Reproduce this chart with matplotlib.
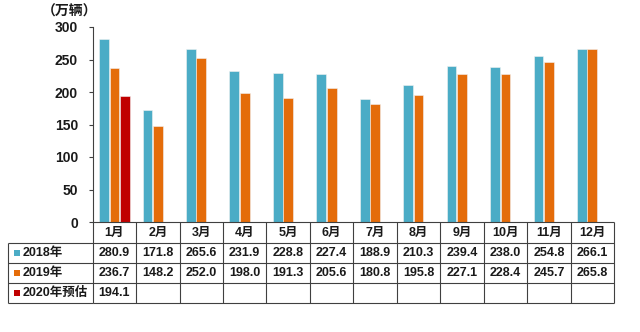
import matplotlib
matplotlib.use("Agg")
import matplotlib.pyplot as plt
import numpy as np
from matplotlib.transforms import blended_transform_factory

plt.rcParams['font.family'] = ['Liberation Sans', 'Noto Sans CJK SC']

months = ['1月', '2月', '3月', '4月', '5月', '6月', '7月', '8月', '9月', '10月', '11月', '12月']
series_names = ['2018年', '2019年', '2020年预估']
sales_2018 = [280.9, 171.8, 265.6, 231.9, 228.8, 227.4, 188.9, 210.3, 239.4, 238.0, 254.8, 266.1]
sales_2019 = [236.7, 148.2, 252.0, 198.0, 191.3, 205.6, 180.8, 195.8, 227.1, 228.4, 245.7, 265.8]
sales_2020 = [194.1, None, None, None, None, None, None, None, None, None, None, None]
colors = ['#4BACC6', '#E46C0A', '#C00000']
yticks = [0, 50, 100, 150, 200, 250, 300]
unit_label = '（万辆）'

W, H = 640, 332
fig = plt.figure(figsize=(W / 100, H / 100), dpi=100)

# main plotting area (pixel geometry)
ax_l, ax_r, ax_t, ax_b = 92.7, 614.0, 27.0, 222.0
ax = fig.add_axes([ax_l / W, 1 - ax_b / H, (ax_r - ax_l) / W, (ax_b - ax_t) / H])

x = np.arange(len(months))
offsets = [-0.24, 0.0, 0.24]
bar_w = 0.225
all_series = [sales_2018, sales_2019, sales_2020]
for vals, off, c in zip(all_series, offsets, colors):
    v = np.array([np.nan if s is None else s for s in vals], dtype=float)
    ax.bar(x + off, v, width=bar_w, color=c, edgecolor='#f2f2f2', linewidth=0.4)

ax.set_xlim(-0.5, len(months) - 0.5)
ax.set_ylim(0, 300)
ax.set_yticks(yticks)
ax.set_xticks([])
for s in ['top', 'right', 'bottom']:
    ax.spines[s].set_visible(False)
ax.spines['left'].set_color('#404040')
ax.spines['left'].set_linewidth(0.8)
ax.tick_params(axis='y', direction='out', length=3, width=0.8, color='#404040',
               pad=7.5, labelsize=10)
for lbl in ax.get_yticklabels():
    lbl.set_fontweight('bold')
    lbl.set_color('#1a1a1a')

# overlay axes in figure pixels for the data table
tab = fig.add_axes([0, 0, 1, 1], facecolor='none')
tab.set_xlim(0, W)
tab.set_ylim(H, 0)
tab.axis('off')
mix = blended_transform_factory(ax.transData, tab.transData)

line_kw = dict(color='#404040', lw=0.8, solid_capstyle='butt')
rows_y = [222, 243, 263, 283, 303]
left_px = 8
x_first = -0.5
x_last = len(months) - 0.5

# header top line (spans month columns only)
tab.plot([x_first, x_last], [rows_y[0], rows_y[0]], transform=mix, **line_kw)
# remaining horizontal lines span the label column too
axis_left_px = ax_l
for yy in rows_y[1:]:
    tab.plot([left_px, axis_left_px], [yy, yy], **line_kw)
    tab.plot([x_first, x_last], [yy, yy], transform=mix, **line_kw)
# vertical lines
tab.plot([left_px, left_px], [rows_y[1], rows_y[-1]], **line_kw)
for i in range(len(months) + 1):
    xv = i - 0.5
    tab.plot([xv, xv], [rows_y[0], rows_y[-1]], transform=mix, **line_kw)

txt_kw = dict(fontsize=9, fontweight='bold', color='#1a1a1a', ha='center', va='center')
for i, m in enumerate(months):
    tab.text(i, (rows_y[0] + rows_y[1]) / 2, m, transform=mix, **txt_kw)
for r, vals in enumerate(all_series):
    yc = (rows_y[r + 1] + rows_y[r + 2]) / 2
    for i, v in enumerate(vals):
        if v is not None:
            tab.text(i, yc, f'{v:.1f}', transform=mix, **txt_kw)
    # legend key square and series name
    tab.add_patch(plt.Rectangle((14, yc - 3), 5.5, 5.5, color=colors[r], lw=0))
    tab.text(22.5, yc, series_names[r], fontsize=9, fontweight='bold',
             color='#1a1a1a', ha='left', va='center')

tab.text(70, 12, unit_label, fontsize=10, fontweight='bold', color='#1a1a1a',
         ha='center', va='center')

fig.savefig('out.png', dpi=100)
